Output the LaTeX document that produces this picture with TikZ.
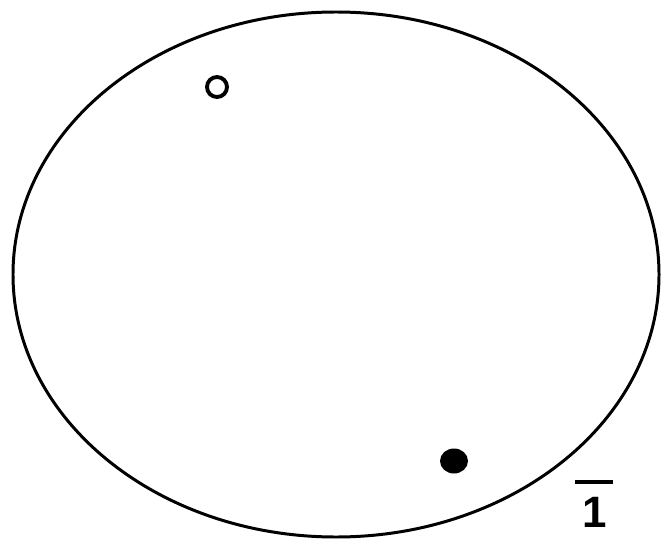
\documentclass[tikz,border=0pt]{standalone}
\usepackage{fontspec}
\setmainfont{Liberation Sans}
\usetikzlibrary{shapes.geometric}
\begin{document}
\begin{tikzpicture}[x=0.02cm,y=-0.02cm,
  outline/.style={line width=1.7pt,black},
  opendot/.style={circle,draw=black,line width=2.2pt,minimum size=0.40cm,inner sep=0pt},
  fulldot/.style={ellipse,fill=black,minimum width=0.56cm,minimum height=0.5cm,inner sep=0pt},
  lbl/.style={font=\bfseries\fontsize{25}{28}\selectfont,inner sep=0pt},
  barline/.style={line width=2.2pt,black}]
\useasboundingbox (0,0) rectangle (662,544);
\draw[outline] (336,274.5) ellipse [x radius=323, y radius=262.5];
\node[opendot] (o) at (217,87) {};
\node[fulldot] (f) at (454,461) {};
\node[lbl,anchor=north] (l) at (595,497) {1};
\draw[barline] ([xshift=-0.4cm,yshift=0.3cm]l.north) -- ([xshift=0.36cm,yshift=0.3cm]l.north);
\end{tikzpicture}
\end{document}
